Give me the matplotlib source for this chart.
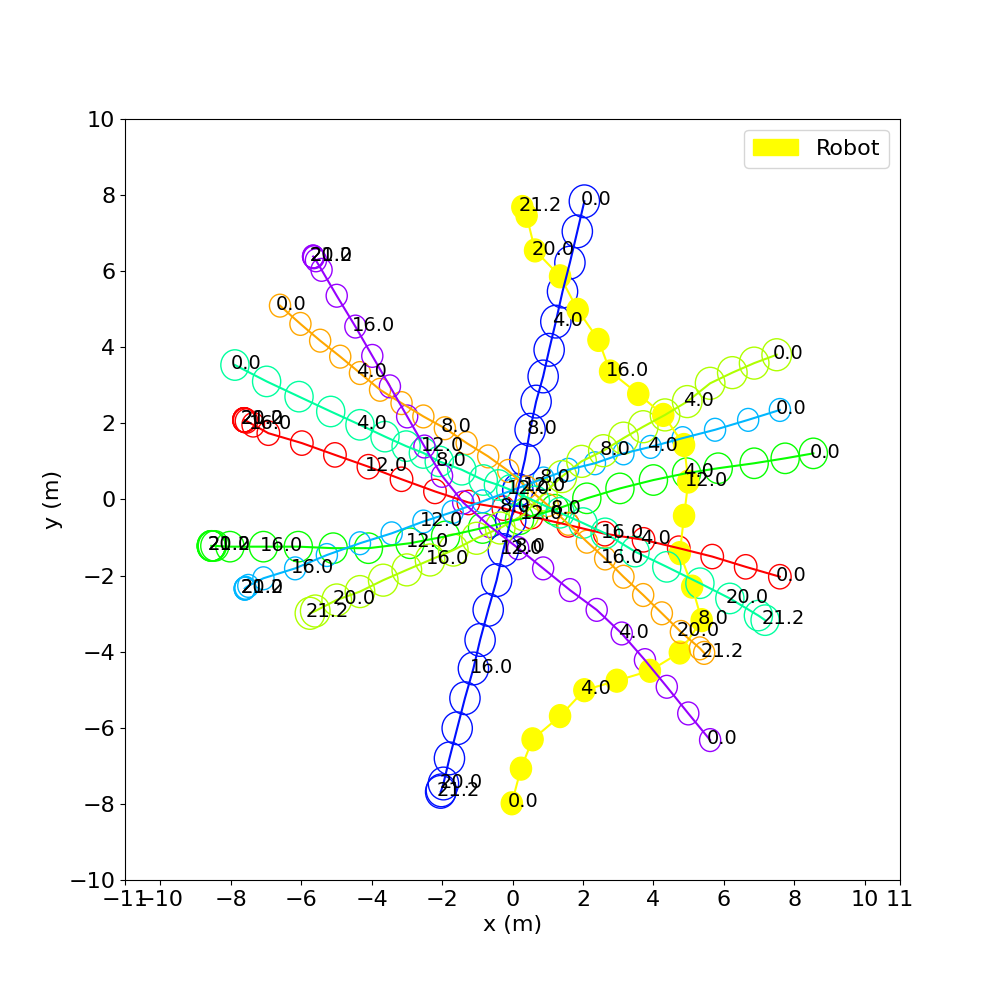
import numpy as np
import matplotlib
matplotlib.use("Agg")
import matplotlib.pyplot as plt

# time of each drawn state (every 4 steps of 0.25 s, plus the final one)
times = [0, 1, 2, 3, 4, 5, 6, 7, 8, 9, 10, 11, 12, 13, 14, 15, 16, 17, 18, 19, 20, 21, 21.25]

robot_x = [-0.02, 0.24, 0.57, 1.35, 2.04, 2.96, 3.90, 4.75, 5.37, 5.10, 4.75, 4.87,
           4.99, 4.87, 4.28, 3.57, 2.77, 2.44, 1.85, 1.35, 0.64, 0.40, 0.28]
robot_y = [-7.98, -7.07, -6.30, -5.69, -5.01, -4.76, -4.50, -4.02, -3.17, -2.29, -1.41, -0.43,
           0.47, 1.43, 2.22, 2.77, 3.36, 4.19, 4.98, 5.86, 6.54, 7.45, 7.68]
robot_radius = 0.3

human_x = [
    [7.59, 6.62, 5.67, 4.72, 3.72, 2.62, 1.58, 0.54, -0.26, -1.25, -2.20, -3.15,
     -4.09, -5.04, -5.98, -6.93, -7.36, -7.55, -7.60, -7.62, -7.62, -7.62, -7.62],
    [-6.60, -6.02, -5.46, -4.89, -4.33, -3.76, -3.15, -2.53, -1.92, -1.30, -0.69, -0.12,
     0.40, 1.00, 1.58, 2.11, 2.63, 3.15, 3.71, 4.24, 4.78, 5.32, 5.44],
    [7.50, 6.86, 6.24, 5.61, 4.96, 4.33, 3.71, 3.15, 2.58, 1.96, 1.40, 0.85,
     0.32, -0.35, -1.02, -1.68, -2.34, -3.00, -3.67, -4.33, -4.99, -5.60, -5.75],
    [8.54, 7.74, 6.86, 5.84, 4.94, 4.00, 3.05, 2.11, 1.20, 0.20, -0.85, -1.90,
     -2.91, -4.09, -5.09, -6.08, -7.07, -8.02, -8.45, -8.52, -8.55, -8.55, -8.55],
    [-7.88, -6.98, -6.06, -5.16, -4.33, -3.62, -3.02, -2.53, -2.08, -1.44, -0.83, -0.40,
     -0.05, 0.65, 1.35, 2.00, 2.63, 3.48, 4.38, 5.32, 6.17, 6.98, 7.17],
    [7.59, 6.69, 5.75, 4.83, 3.92, 3.15, 2.34, 1.58, 0.88, 0.02, -0.85, -1.70,
     -2.53, -3.43, -4.33, -5.27, -6.17, -7.07, -7.50, -7.58, -7.60, -7.60, -7.60],
    [2.04, 1.84, 1.63, 1.42, 1.23, 1.04, 0.87, 0.67, 0.50, 0.35, 0.15, -0.05,
     -0.26, -0.45, -0.69, -0.92, -1.11, -1.35, -1.57, -1.79, -1.96, -2.02, -2.04],
    [5.61, 4.99, 4.38, 3.76, 3.10, 2.39, 1.63, 0.87, 0.16, -0.65, -1.40, -2.00,
     -2.50, -2.99, -3.48, -3.98, -4.46, -4.99, -5.42, -5.58, -5.64, -5.66, -5.66],
]
human_y = [
    [-2.03, -1.77, -1.50, -1.28, -1.06, -0.90, -0.67, -0.45, -0.23, -0.08, 0.21, 0.53,
     0.86, 1.17, 1.48, 1.74, 1.96, 2.06, 2.08, 2.09, 2.09, 2.09, 2.09],
    [5.09, 4.61, 4.17, 3.75, 3.32, 2.88, 2.53, 2.18, 1.87, 1.48, 1.13, 0.75,
     0.32, -0.15, -0.64, -1.11, -1.55, -2.03, -2.51, -2.99, -3.48, -3.91, -4.03],
    [3.80, 3.58, 3.33, 3.05, 2.57, 2.22, 1.91, 1.61, 1.28, 1.00, 0.60, 0.12,
     -0.40, -0.75, -1.02, -1.33, -1.59, -1.85, -2.12, -2.42, -2.64, -2.93, -2.99],
    [1.21, 1.08, 0.95, 0.82, 0.69, 0.51, 0.29, 0.03, -0.27, -0.52, -0.75, -0.97,
     -1.15, -1.28, -1.28, -1.24, -1.24, -1.24, -1.22, -1.22, -1.22, -1.22, -1.22],
    [3.53, 3.10, 2.70, 2.31, 1.96, 1.65, 1.40, 1.22, 1.00, 0.78, 0.51, 0.38,
     0.25, -0.05, -0.35, -0.62, -0.89, -1.37, -1.77, -2.20, -2.60, -3.05, -3.17],
    [2.35, 2.09, 1.83, 1.61, 1.38, 1.21, 0.95, 0.78, 0.55, 0.25, -0.05, -0.33,
     -0.58, -0.89, -1.15, -1.46, -1.81, -2.07, -2.27, -2.32, -2.34, -2.34, -2.34],
    [7.83, 7.04, 6.22, 5.46, 4.67, 3.93, 3.23, 2.57, 1.83, 1.04, 0.25, -0.55,
     -1.33, -2.12, -2.90, -3.69, -4.44, -5.22, -6.01, -6.80, -7.46, -7.64, -7.68],
    [-6.32, -5.62, -4.92, -4.22, -3.52, -2.90, -2.38, -1.81, -1.28, -0.70, -0.08, 0.62,
     1.39, 2.18, 2.97, 3.77, 4.54, 5.35, 6.03, 6.28, 6.36, 6.38, 6.38],
]
human_radius = [0.32, 0.3, 0.42, 0.4, 0.4, 0.3, 0.43, 0.3]

cmap = matplotlib.colormaps['hsv'].resampled(10)
robot_color = 'yellow'
x_offset = 0.11
y_offset = 0.11

fig, ax = plt.subplots(figsize=(10, 9.89), dpi=100)
ax.tick_params(labelsize=16)
ax.set_xlim(-11, 11)
ax.set_ylim(-10, 10)
ax.set_xticks([-11, -10, -8, -6, -4, -2, 0, 2, 4, 6, 8, 10, 11])
ax.set_yticks(np.arange(-10, 11, 2))
ax.set_xlabel('x (m)', fontsize=16)
ax.set_ylabel('y (m)', fontsize=16)

n_humans = len(human_x)
for k in range(len(times)):
    robot = plt.Circle((robot_x[k], robot_y[k]), robot_radius, fill=True, color=robot_color)
    ax.add_artist(robot)
    for i in range(n_humans):
        ax.add_artist(plt.Circle((human_x[i][k], human_y[i][k]), human_radius[i],
                                 fill=False, color=cmap(i)))
    t = times[k]
    if t % 4 == 0 or k == len(times) - 1:
        for i in range(n_humans):
            ax.text(human_x[i][k] - x_offset, human_y[i][k] - y_offset,
                    '{:.1f}'.format(t), color='black', fontsize=14)
        ax.text(robot_x[k] - x_offset, robot_y[k] - y_offset,
                '{:.1f}'.format(t), color='black', fontsize=14)

ax.plot(robot_x, robot_y, color=robot_color, ls='solid')
for i in range(n_humans):
    ax.plot(human_x[i], human_y[i], color=cmap(i), ls='solid')

ax.legend([robot], ['Robot'], fontsize=16, loc='upper right')
plt.savefig('out.png', dpi=100)
